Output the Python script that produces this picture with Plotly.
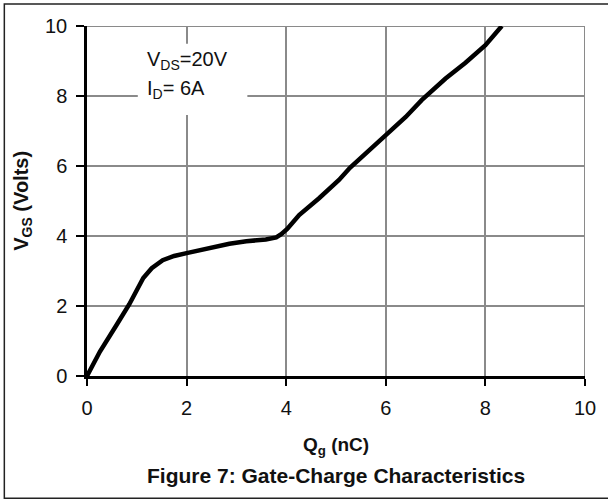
import plotly.graph_objects as go

qg = [0, 0.26, 0.59, 0.85, 1.13, 1.3, 1.52, 1.75, 2.0, 2.4, 2.86, 3.2, 3.59, 3.8, 3.9, 4.02,
      4.26, 4.66, 5.06, 5.28, 5.66, 6.0, 6.4, 6.72, 7.2, 7.6, 8.0, 8.33]
vgs = [0, 0.7, 1.45, 2.05, 2.8, 3.08, 3.31, 3.43, 3.51, 3.64, 3.78, 3.85, 3.9, 3.96, 4.05, 4.2,
       4.6, 5.08, 5.6, 5.95, 6.42, 6.88, 7.4, 7.88, 8.5, 8.95, 9.45, 10.0]
tick_vals = [0, 2, 4, 6, 8, 10]

FONT = "Liberation Sans, Arial, sans-serif"

fig = go.Figure()
fig.add_trace(go.Scatter(x=qg, y=vgs, mode="lines",
                         line=dict(color="black", width=4.5), showlegend=False,
                         hoverinfo="skip"))

grid = "#8a8a8a"
fig.update_xaxes(range=[0, 10], tickvals=tick_vals, showgrid=True, gridcolor=grid, gridwidth=2,
                 showline=True, linecolor="black", linewidth=2.5, ticks="outside",
                 ticklen=7, tickwidth=2, tickcolor="black", zeroline=False,
                 ticklabelstandoff=5,
                 tickfont=dict(family=FONT, size=20, color="#111"), fixedrange=True)
fig.update_yaxes(range=[0, 10], tickvals=tick_vals, showgrid=True, gridcolor=grid, gridwidth=2,
                 showline=True, linecolor="black", linewidth=2.5, ticks="outside",
                 ticklen=8, tickwidth=2, tickcolor="black", zeroline=False,
                 ticklabelstandoff=5,
                 tickfont=dict(family=FONT, size=20, color="#111"), fixedrange=True)

shapes = [
    # top/right grey frame lines
    dict(type="line", xref="x", yref="y", x0=0, x1=10, y0=10, y1=10,
         line=dict(color=grid, width=2), layer="between"),
    dict(type="line", xref="x", yref="y", x0=10, x1=10, y0=0, y1=10,
         line=dict(color=grid, width=2), layer="between"),
    # white box behind annotation text
    dict(type="rect", xref="x", yref="y", x0=1.02, x1=3.22, y0=7.46, y1=9.49,
         fillcolor="white", line=dict(width=0), layer="between"),
    # outer figure frame
    dict(type="rect", xref="paper", yref="paper", x0=-0.166, x1=1.06, y0=-0.349, y1=1.063,
         line=dict(color="#222", width=1.5), fillcolor="rgba(0,0,0,0)"),
]

annotations = [
    dict(text="V<sub>DS</sub>=20V", x=1.16, y=9.01, xref="x", yref="y",
         xanchor="left", yanchor="middle", showarrow=False,
         font=dict(family=FONT, size=20, color="#111")),
    dict(text="I<sub>D</sub>= 6A", x=1.16, y=8.18, xref="x", yref="y",
         xanchor="left", yanchor="middle", showarrow=False,
         font=dict(family=FONT, size=20, color="#111")),
    dict(text="<b>Q<sub>g</sub> (nC)</b>", x=0.5, y=-0.201, xref="paper", yref="paper",
         xanchor="center", yanchor="middle", showarrow=False,
         font=dict(family=FONT, size=19, color="#111")),
    dict(text="<b>Figure 7: Gate-Charge Characteristics</b>", x=0.5, y=-0.284,
         xref="paper", yref="paper", xanchor="center", yanchor="middle", showarrow=False,
         font=dict(family=FONT, size=21, color="#111")),
    dict(text="<b>V<sub>GS</sub> (Volts)</b>", x=-0.131, y=0.5, xref="paper", yref="paper",
         xanchor="center", yanchor="middle", showarrow=False, textangle=-90,
         font=dict(family=FONT, size=20, color="#111")),
]

fig.update_layout(width=608, height=500, margin=dict(l=87, r=21, t=26, b=124),
                  plot_bgcolor="white", paper_bgcolor="white",
                  shapes=shapes, annotations=annotations, showlegend=False)

fig.write_html("out.html", config={"displayModeBar": False})
